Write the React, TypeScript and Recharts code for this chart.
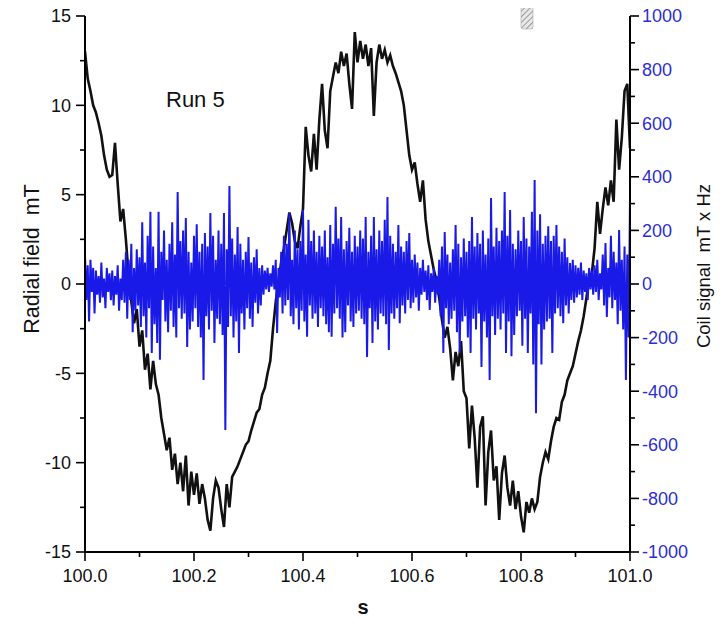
import React from 'react';
import { ComposedChart, Line, XAxis, YAxis } from 'recharts';

const X_START = 100.0;
const FIELD_STEP = 0.005;
const COIL_STEP = 0.0025;

// Radial field (mT), left axis, sampled every 0.005 s
const radialField = [
  13.0, 11.5, 10.8, 10.0, 9.6, 9.0, 8.3, 7.2, 6.4, 6.0,
  6.1, 7.9, 5.6, 3.5, 4.2, 2.5, 0.5, -1.0, -2.2, -1.4,
  -3.5, -2.6, -4.8, -3.9, -5.9, -4.3, -5.6, -6.2, -7.5, -8.4,
  -9.3, -8.6, -10.4, -9.5, -11.2, -10.0, -11.6, -9.6, -12.4, -10.5,
  -11.8, -10.6, -12.3, -11.2, -12.0, -13.2, -13.8, -12.0, -11.0, -11.4,
  -12.6, -13.6, -11.2, -12.5, -10.8, -10.5, -10.2, -9.8, -9.4, -9.0,
  -8.8, -8.2, -7.7, -7.2, -7.0, -6.2, -5.8, -5.0, -4.3, -2.5,
  -1.0, 0.2, 1.2, 2.0, 3.0, 4.0, 3.4, 2.4, 2.0, 3.2,
  4.2, 8.8, 7.2, 6.3, 8.4, 6.4, 9.2, 11.2, 8.6, 7.6,
  10.8, 11.6, 12.4, 11.8, 13.0, 12.2, 12.9, 11.2, 9.8, 14.1,
  12.4, 13.6, 12.6, 13.4, 12.2, 13.2, 9.4, 12.4, 13.4, 12.6,
  13.1, 12.4, 12.8, 12.2, 11.8, 11.3, 10.8, 10.0, 8.6, 7.2,
  6.4, 6.8, 5.6, 4.6, 5.8, 3.6, 2.4, 1.6, 0.8, 0.2,
  -0.8, -2.0, -3.0, -2.4, -3.6, -5.4, -3.8, -4.6, -3.2, -6.0,
  -6.4, -9.2, -6.8, -8.6, -11.4, -8.0, -7.4, -12.4, -9.4, -8.2,
  -11.0, -10.2, -13.2, -10.6, -9.6, -11.4, -12.4, -11.0, -12.6, -11.6,
  -13.0, -13.9, -12.2, -12.8, -12.0, -12.6, -12.2, -10.8, -10.0, -9.4,
  -9.8, -8.8, -8.0, -7.5, -7.6, -6.6, -6.2, -5.4, -5.0, -4.6,
  -3.9, -3.2, -2.6, -1.8, -0.8, 0.4, 0.6, 2.0, 4.6, 2.8,
  4.2, 5.4, 4.4, 5.8, 4.6, 9.2, 6.4, 8.2, 10.8, 11.2,
  7.6,
];

// Coil signal (mT x Hz), right axis, sampled every 0.0025 s
const coilSignal = [
  110, -60, 70, -140, 90, -30, 60, -110, 50, -40,
  30, -70, 80, -50, 20, -90, 60, -30, 40, -60,
  50, -80, 30, -40, 70, -100, 20, -60, 90, -70,
  120, -130, 90, -60, 150, -180, 60, -100, 130, -80,
  100, -160, 230, -120, 80, -200, 180, -90, 270, -257,
  140, -150, 60, -220, 270, -283, 120, -60, 200, -140,
  90, -180, 150, -100, 230, -160, 110, -200, 343, -90,
  160, -130, 200, -110, 246, -235, 120, -170, 80, -140,
  180, -90, 223, -160, 120, -200, 150, -358, 190, -120,
  140, -170, 265, -100, 180, -220, 90, -130, 200, -150,
  150, -190, 265, -545, 130, -160, 366, -120, 170, -200,
  110, -140, 213, -257, 150, -110, 90, -170, 120, -90,
  175, -130, 80, -160, 100, -70, 130, -110, 60, -80,
  70, -40, 50, -20, 60, -30, 40, -10, 70, -20,
  90, -183, 60, -50, 120, -110, 180, -80, 150, -60,
  265, -120, 90, -150, 200, -90, 130, -170, 160, -100,
  276, -140, 110, -197, 240, -80, 160, -130, 200, -110,
  120, -160, 180, -90, 140, -120, 200, -150, 100, -180,
  220, -197, 150, -110, 288, -90, 170, -130, 250, -200,
  130, -180, 160, -80, 210, -140, 120, -160, 180, -110,
  140, -100, 200, -130, 170, -150, 250, -272, 120, -90,
  180, -220, 250, -140, 130, -170, 200, -110, 160, -120,
  240, -150, 325, -246, 180, -110, 150, -130, 120, -90,
  220, -146, 140, -80, 120, -110, 160, -60, 190, -90,
  90, -70, 110, -50, 80, -100, 60, -40, 90, -30,
  50, -60, 70, -97, 40, -30, 60, -70, 30, -40,
  90, -120, 140, -257, 194, -90, 110, -150, 80, -130,
  130, -100, 220, -180, 150, -257, 100, -140, 170, -120,
  120, -200, 160, -257, 250, -130, 140, -170, 190, -110,
  150, -310, 200, -140, 110, -200, 170, -358, 321, -120,
  140, -190, 210, -130, 160, -170, 200, -110, 343, -257,
  180, -140, 276, -270, 150, -190, 130, -120, 200, -100,
  160, -230, 250, -130, 170, -257, 140, -110, 270, -300,
  388, -482, 200, -150, 260, -300, 150, -170, 180, -140,
  215, -130, 160, -257, 180, -110, 220, -90, 140, -120,
  120, -146, 170, -80, 100, -110, 78, -60, 90, -70,
  70, -50, 60, -40, 80, -60, 50, -30, 40, -60,
  60, -20, 50, -40, 70, -30, 90, -60, 40, -20,
  110, -80, 153, -123, 60, -50, 180, -90, 120, -60,
  80, -150, 201, -100, 90, -170, 140, -358, 110, -200,
  325,
];

const xTicks = [100.0, 100.1, 100.2, 100.3, 100.4, 100.5, 100.6, 100.7, 100.8, 100.9, 101.0];
const leftTicks = [-15, -12.5, -10, -7.5, -5, -2.5, 0, 2.5, 5, 7.5, 10, 12.5, 15];
const rightTicks = [-1000, -900, -800, -700, -600, -500, -400, -300, -200, -100, 0, 100, 200, 300, 400, 500, 600, 700, 800, 900, 1000];

const FONT = 'Liberation Sans, Arial, sans-serif';
const BLUE = '#1a1ae8';
const TICK_BLUE = '#2e2ed0';

const fieldData = radialField.map((v, i) => ({ s: +(X_START + i * FIELD_STEP).toFixed(4), field: v }));
const coilData = coilSignal.map((v, i) => ({ s: +(X_START + i * COIL_STEP).toFixed(4), coil: v }));

const LeftTick = (props: any) => {
  const { x, y, payload } = props;
  const v = payload.value as number;
  const major = Math.abs(v % 5) < 1e-6;
  return (
    <g>
      <line x1={x - (major ? 9 : 5)} x2={x} y1={y} y2={y} stroke="#000" strokeWidth={1.6} />
      {major && (
        <text x={x - 14} y={y} dy="0.36em" textAnchor="end" fontFamily={FONT} fontSize={18} fill="#111">
          {v}
        </text>
      )}
    </g>
  );
};

const RightTick = (props: any) => {
  const { x, y, payload } = props;
  const v = payload.value as number;
  const major = Math.abs(v % 200) < 1e-6;
  return (
    <g>
      <line x1={x} x2={x + (major ? 9 : 5)} y1={y} y2={y} stroke="#000" strokeWidth={1.6} />
      {major && (
        <text x={x + 12} y={y} dy="0.36em" textAnchor="start" fontFamily={FONT} fontSize={18} fill={TICK_BLUE}>
          {v}
        </text>
      )}
    </g>
  );
};

const BottomTick = (props: any) => {
  const { x, y, payload } = props;
  const v = payload.value as number;
  const major = Math.round(v * 10) % 2 === 0;
  return (
    <g>
      <line x1={x} x2={x} y1={y} y2={y + (major ? 9 : 5)} stroke="#000" strokeWidth={1.6} />
      {major && (
        <text x={x} y={y + 30} textAnchor="middle" fontFamily={FONT} fontSize={18} fill="#111">
          {v.toFixed(1)}
        </text>
      )}
    </g>
  );
};

export default function App() {
  return (
    <div style={{ position: 'relative', width: 711, height: 616, marginTop: -8, background: '#fff' }}>
      <ComposedChart width={711} height={616} margin={{ top: 16, right: 0, bottom: 0, left: 0 }}>
        <XAxis
          type="number"
          dataKey="s"
          domain={[100, 101]}
          ticks={xTicks}
          interval={0}
          allowDataOverflow
          height={64}
          tickSize={0}
          tickMargin={0}
          tick={<BottomTick />}
          axisLine={{ stroke: '#000', strokeWidth: 2 }}
        />
        <YAxis
          yAxisId="left"
          orientation="left"
          domain={[-15, 15]}
          ticks={leftTicks}
          interval={0}
          allowDataOverflow
          width={77}
          tickSize={0}
          tickMargin={0}
          tick={<LeftTick />}
          axisLine={{ stroke: '#000', strokeWidth: 2 }}
        />
        <YAxis
          yAxisId="right"
          orientation="right"
          domain={[-1000, 1000]}
          ticks={rightTicks}
          interval={0}
          allowDataOverflow
          width={89}
          tickSize={0}
          tickMargin={0}
          tick={<RightTick />}
          axisLine={{ stroke: '#000', strokeWidth: 2 }}
        />
        <Line
          yAxisId="left"
          data={fieldData}
          dataKey="field"
          type="linear"
          stroke="#111"
          strokeWidth={2.6}
          dot={false}
          isAnimationActive={false}
        />
        <Line
          yAxisId="right"
          data={coilData}
          dataKey="coil"
          type="linear"
          stroke={BLUE}
          strokeWidth={2}
          dot={false}
          isAnimationActive={false}
        />
      </ComposedChart>
      <svg
        width={727}
        height={624}
        style={{ position: 'absolute', left: -8, top: 0, pointerEvents: 'none', overflow: 'visible' }}
      >
        <defs>
          <pattern id="hatch" width="4" height="4" patternUnits="userSpaceOnUse" patternTransform="rotate(45)">
            <rect width="4" height="4" fill="#e8e8e8" />
            <line x1="0" y1="0" x2="0" y2="4" stroke="#888" strokeWidth="1.6" />
          </pattern>
        </defs>
        <rect x={521} y={0} width={12} height={29} rx={2} fill="url(#hatch)" stroke="#aaa" strokeWidth={0.6} />
        <text x={166} y={107} fontFamily={FONT} fontSize={22} fill="#111">Run 5</text>
        <text
          x={31}
          y={259}
          transform="rotate(-90 31 259)"
          textAnchor="middle"
          dy="0.36em"
          fontFamily={FONT}
          fontSize={21.5}
          fill="#111"
        >
          {'Radial field\u00a0\u00a0mT'}
        </text>
        <text
          x={703}
          y={266}
          transform="rotate(-90 703 266)"
          textAnchor="middle"
          dy="0.36em"
          fontFamily={FONT}
          fontSize={18.5}
          fill="#111"
        >
          {'Coil signal\u00a0\u00a0mT x Hz'}
        </text>
        <text x={363} y={614} textAnchor="middle" fontFamily={FONT} fontSize={20} fontWeight="bold" fill="#111">
          s
        </text>
      </svg>
    </div>
  );
}
